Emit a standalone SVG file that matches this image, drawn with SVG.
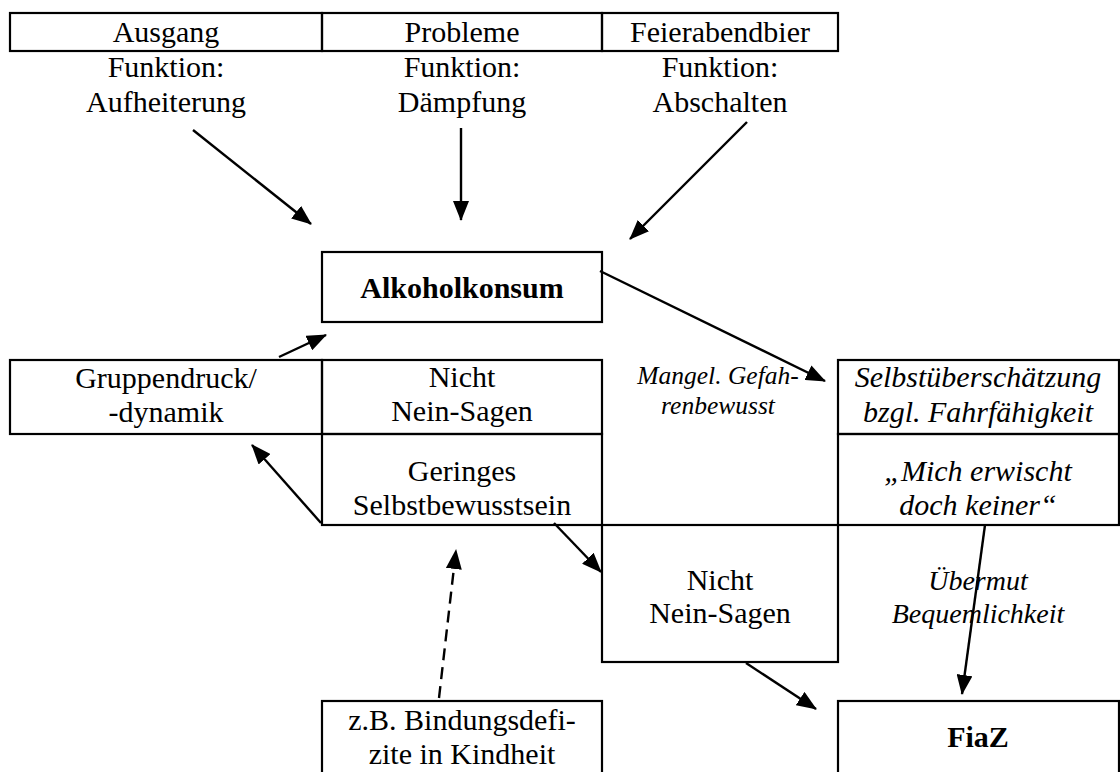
<svg xmlns="http://www.w3.org/2000/svg" width="1120" height="772" viewBox="0 0 1120 772">
<style>
.box{fill:none;stroke:#000;stroke-width:2.2}
.t{font-family:"Liberation Serif","Times New Roman",serif;font-size:30px;fill:#000;text-anchor:middle}
.b{font-weight:bold}
.i{font-style:italic}
.s{font-size:25.5px}
.m{font-size:28px}
.c{stroke:#000;stroke-width:2.4;fill:none;marker-end:url(#ah)}
.d{stroke-dasharray:12 7}
</style>
<defs>
<marker id="ah" viewBox="0 0 20 16" refX="19" refY="8" markerWidth="20" markerHeight="16" markerUnits="userSpaceOnUse" orient="auto">
<path d="M0,0 L20,8 L0,16 z" fill="#000"/>
</marker>
</defs>
<rect width="1120" height="772" fill="#fff"/>

<g id="ausgang"><rect class="box" x="10" y="13" width="312" height="38"/><text class="t" x="166" y="42">Ausgang</text></g>
<g id="probleme"><rect class="box" x="322" y="13" width="280" height="38"/><text class="t" x="462" y="42">Probleme</text></g>
<g id="feierabendbier"><rect class="box" x="602" y="13" width="236" height="38"/><text class="t" x="720" y="42">Feierabendbier</text></g>

<g id="f-aufheiterung"><text class="t" x="166" y="77">Funktion:</text><text class="t" x="166" y="112">Aufheiterung</text></g>
<g id="f-daempfung"><text class="t" x="462" y="77">Funktion:</text><text class="t" x="462" y="112">Dämpfung</text></g>
<g id="f-abschalten"><text class="t" x="720" y="77">Funktion:</text><text class="t" x="720" y="112">Abschalten</text></g>

<g id="alkoholkonsum"><rect class="box" x="322" y="252" width="280" height="70"/><text class="t b" x="462" y="298">Alkoholkonsum</text></g>

<g id="gruppendruck"><rect class="box" x="10" y="360" width="312" height="74"/><text class="t" x="166" y="388">Gruppendruck/</text><text class="t" x="166" y="422">-dynamik</text></g>
<g id="nicht-nein-1"><rect class="box" x="322" y="360" width="280" height="74"/><text class="t" x="462" y="387">Nicht</text><text class="t" x="462" y="421">Nein-Sagen</text></g>
<g id="geringes"><rect class="box" x="322" y="434" width="280" height="91"/><text class="t" x="462" y="481">Geringes</text><text class="t" x="462" y="515">Selbstbewusstsein</text></g>

<g id="mangel"><text class="t i s" x="718" y="384">Mangel. Gefah-</text><text class="t i s" x="718" y="414">renbewusst</text></g>

<g id="selbstueberschaetzung"><rect class="box" x="838" y="360" width="281" height="74"/><text class="t i" x="978" y="387" font-size="31">Selbstüberschätzung</text><text class="t i" x="978" y="422" font-size="31">bzgl. Fahrfähigkeit</text></g>
<g id="mich-erwischt"><rect class="box" x="838" y="434" width="281" height="91"/><text class="t i" x="978" y="481" font-size="31">„Mich erwischt</text><text class="t i" x="978" y="515" font-size="31">doch keiner“</text></g>

<g id="nicht-nein-2"><rect class="box" x="602" y="525" width="236" height="137"/><text class="t" x="720" y="590">Nicht</text><text class="t" x="720" y="623">Nein-Sagen</text></g>

<g id="uebermut"><text class="t i m" x="978" y="590">Übermut</text><text class="t i m" x="978" y="623">Bequemlichkeit</text></g>

<g id="bindungsdefizite"><rect class="box" x="322" y="701" width="280" height="80"/><text class="t" x="462" y="730">z.B. Bindungsdefi-</text><text class="t" x="462" y="764">zite in Kindheit</text></g>
<g id="fiaz"><rect class="box" x="838" y="701" width="281" height="80"/><text class="t b" x="978" y="747">FiaZ</text></g>

<g id="connectors">
<line class="c" x1="193" y1="130" x2="311" y2="224"/>
<line class="c" x1="461" y1="128" x2="461" y2="220"/>
<line class="c" x1="747" y1="122" x2="630" y2="239"/>
<line class="c" x1="600" y1="271" x2="825" y2="381"/>
<line class="c" x1="279" y1="357" x2="326" y2="335"/>
<line class="c" x1="321" y1="523" x2="252" y2="445"/>
<line class="c" x1="554" y1="523" x2="601" y2="572"/>
<line class="c d" x1="439" y1="698" x2="456" y2="550"/>
<line class="c" x1="746" y1="663" x2="816" y2="709"/>
<line class="c" x1="985" y1="525" x2="962" y2="694"/>
</g>
</svg>
